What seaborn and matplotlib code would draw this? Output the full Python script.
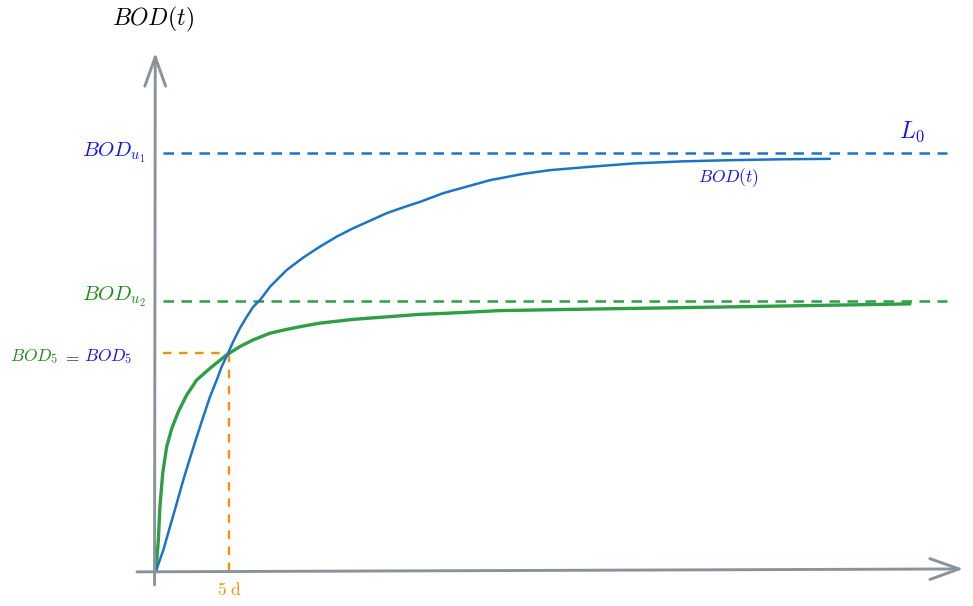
import matplotlib
matplotlib.use("Agg")
import matplotlib.pyplot as plt
import pandas as pd
import seaborn as sns

sns.set_theme(style="white")
plt.rcParams["mathtext.fontset"] = "cm"

# ---- data (t in days, BOD in mg/L) ----
blue_t = [0, 0.50, 0.96, 1.42, 1.87, 2.33, 2.79, 3.24, 3.70, 4.16, 4.50,
          4.95, 5.29, 5.75, 6.21, 6.66, 7.12, 7.81, 8.49, 8.95, 10.09,
          11.23, 12.38, 13.51, 14.66, 15.80, 16.94, 18.08, 19.68, 22.88,
          25.14, 26.99, 29.73, 32.69, 36.10, 39.54, 42.95, 46.16]
blue_bod = [0, 0.50, 1.06, 1.62, 2.18, 2.70, 3.21, 3.69, 4.17, 4.57, 4.89,
            5.22, 5.49, 5.81, 6.08, 6.32, 6.48, 6.80, 7.04, 7.20, 7.50,
            7.76, 8.00, 8.20, 8.38, 8.56, 8.70, 8.83, 9.04, 9.35,
            9.50, 9.59, 9.67, 9.75, 9.80, 9.83, 9.85, 9.86]

green_t = [0, 0.16, 0.27, 0.46, 0.73, 1.08, 1.53, 2.10, 2.79, 3.70, 4.84,
           5.75, 6.66, 7.81, 8.95, 10.09, 11.23, 13.51, 15.80, 18.08,
           20.14, 23.56, 30.41, 39.52, 46.37, 51.64]
green_bod = [0, 0.74, 1.54, 2.34, 2.97, 3.41, 3.81, 4.21, 4.57, 4.85, 5.17,
             5.37, 5.53, 5.69, 5.78, 5.86, 5.93, 6.02, 6.08, 6.14,
             6.17, 6.23, 6.27, 6.32, 6.36, 6.39]

bod_u1 = 10.0     # L0
bod_u2 = 6.45
bod_5 = 5.22
t_5 = 5.0
ref_t = [0.48, 54.2]  # extent of the dashed reference lines

# colours
c_blue = "#1c74c6"
c_green = "#2f9e44"
c_orange = "#f59200"
c_axis = "#8a939b"
c_tblue = "#1414f5"
c_tgreen = "#1e8c1e"

blue = pd.DataFrame({"t": blue_t, "bod": blue_bod})
green = pd.DataFrame({"t": green_t, "bod": green_bod})

fig = plt.figure(figsize=(9.73, 6.06), dpi=100)
ax = fig.add_axes([0, 0, 1, 1])
ax.set_xlim(-10.685, 55.96)
ax.set_ylim(-0.837, 13.66)
ax.axis("off")

# axes drawn as sketch arrows
arrow = dict(arrowstyle="->,head_length=2.1,head_width=0.75", color=c_axis,
             lw=2.1, mutation_scale=10, shrinkA=0, shrinkB=0)
ax.annotate("", xy=(-0.05, 12.4), xytext=(-0.1, -0.33), arrowprops=arrow)
ax.annotate("", xy=(55.3, 0.05), xytext=(-1.3, -0.02), arrowprops=arrow)

# reference levels
dash = (0, (4.2, 3.0))
ax.plot(ref_t, [bod_u1, bod_u1], color=c_blue, lw=1.8, ls=dash)
ax.plot(ref_t, [bod_u2, bod_u2], color=c_green, lw=1.8, ls=dash)
odash = (0, (3.6, 3.2))
ax.plot([ref_t[0], t_5], [bod_5, bod_5], color=c_orange, lw=1.7, ls=odash)
ax.plot([t_5, t_5], [0, bod_5], color=c_orange, lw=1.7, ls=odash)

# BOD curves
sns.lineplot(data=green, x="t", y="bod", sort=False, color=c_green, lw=2.4,
             solid_joinstyle="round", solid_capstyle="round", ax=ax)
sns.lineplot(data=blue, x="t", y="bod", sort=False, color=c_blue, lw=1.8,
             solid_joinstyle="round", solid_capstyle="round", ax=ax)

# labels
ax.text(-0.2, 13.2, r"$BOD(t)$", fontsize=17, ha="center", va="center", color="black")
ax.text(-0.7, bod_u1, r"$BOD_{u_1}$", fontsize=15, ha="right", va="center", color=c_tblue)
ax.text(-0.7, bod_u2 + 0.1, r"$BOD_{u_2}$", fontsize=15, ha="right", va="center", color=c_tgreen)
ax.text(51.8, 10.5, r"$L_0$", fontsize=17, ha="center", va="center", color=c_tblue)
ax.text(39.2, 9.42, r"$BOD(t)$", fontsize=12.5, ha="center", va="center", color=c_tblue)
base5 = 5.03
ax.text(-10.0, base5, r"$BOD_5$", fontsize=12.5, ha="left", va="baseline", color=c_tgreen)
ax.text(-6.45, base5, r"$=$", fontsize=12.5, ha="left", va="baseline", color="#333333")
ax.text(-4.95, base5, r"$BOD_5$", fontsize=12.5, ha="left", va="baseline", color=c_tblue)
ax.text(t_5 + 0.05, -0.45, r"$5\ \mathrm{d}$", fontsize=12.5, ha="center", va="center", color=c_orange)

fig.savefig("out.png", dpi=100)
